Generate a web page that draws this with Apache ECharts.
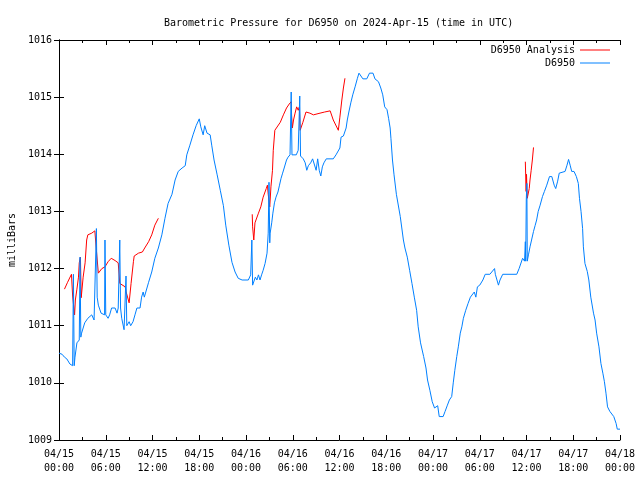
<!DOCTYPE html>
<html>
<head>
<meta charset="utf-8">
<script src="https://cdn.jsdelivr.net/npm/echarts@6/dist/echarts.min.js"></script>
<style>html,body{margin:0;padding:0;background:#fff;}#c{width:640px;height:480px;}</style>
</head>
<body>
<div id="c"></div>
<script>
// x tick labels (every 6 hours from 2024-04-15 00:00 UTC)
const tickLabels = ['04/15\n00:00','04/15\n06:00','04/15\n12:00','04/15\n18:00','04/16\n00:00','04/16\n06:00','04/16\n12:00','04/16\n18:00','04/17\n00:00','04/17\n06:00','04/17\n12:00','04/17\n18:00','04/18\n00:00'];

// D6950 observations: hours since 04/15 00:00, pressure in mb
const obsHours = [0.0,0.4,0.7,1.0,1.4,1.75,1.85,1.95,2.05,2.3,2.6,2.7,2.8,2.9,3.3,3.7,4.2,4.5,4.7,4.8,4.9,5.05,5.4,5.65,5.85,5.9,6.0,6.3,6.5,6.75,7.2,7.45,7.6,7.8,7.9,8.05,8.35,8.5,8.6,8.7,9.0,9.2,9.5,9.75,10.0,10.4,10.6,10.8,10.95,11.1,11.5,11.9,12.3,12.75,13.2,13.6,14.0,14.5,14.9,15.3,15.8,16.2,16.4,16.8,17.2,17.6,18.0,18.2,18.5,18.7,19.0,19.4,19.6,19.9,20.3,20.7,21.1,21.4,21.8,22.2,22.6,23.0,23.5,24.3,24.6,24.75,24.85,25.2,25.4,25.6,25.8,26.0,26.2,26.45,26.7,26.85,26.95,27.05,27.1,27.3,27.45,27.65,27.85,28.1,28.3,28.5,28.7,28.9,29.2,29.4,29.65,29.8,29.9,30.1,30.45,30.7,30.9,31.0,31.1,31.35,31.6,31.8,32.0,32.3,32.55,32.8,33.0,33.2,33.4,33.6,33.8,34.0,34.3,35.2,35.55,35.8,36.05,36.2,36.5,36.85,37.0,37.2,37.45,37.7,38.0,38.3,38.5,38.75,39.0,39.5,39.85,40.3,40.55,41.0,41.3,41.55,41.8,42.1,42.3,42.5,42.6,42.8,43.0,43.3,43.8,44.2,44.4,44.7,45.0,45.3,45.6,45.9,46.1,46.4,46.8,47.1,47.3,47.6,47.9,48.2,48.4,48.6,48.8,49.3,49.55,49.85,50.1,50.4,50.6,50.8,51.05,51.25,51.5,51.7,51.9,52.2,52.5,52.8,53.3,53.5,53.7,54.0,54.4,54.7,55.3,55.9,56.0,56.4,56.6,56.95,58.75,59.05,59.3,59.5,59.75,59.85,59.9,59.97,60.05,60.1,60.25,60.45,60.65,60.9,61.1,61.3,61.5,61.75,62.05,62.3,62.6,62.95,63.25,63.55,63.75,64.0,64.2,64.45,64.95,65.2,65.4,65.6,65.8,66.1,66.4,66.65,66.8,67.0,67.2,67.3,67.5,67.8,68.0,68.25,68.6,68.8,69.0,69.3,69.55,69.8,70.0,70.2,70.4,70.7,70.9,71.2,71.5,71.65,72.0];
const obsPressure = [1010.52,1010.50,1010.45,1010.42,1010.33,1010.30,1011.90,1010.30,1010.45,1010.70,1010.75,1012.20,1010.80,1010.87,1011.05,1011.13,1011.19,1011.10,1011.10,1012.70,1011.50,1011.36,1011.22,1011.19,1011.19,1012.50,1011.19,1011.13,1011.19,1011.31,1011.31,1011.22,1011.31,1012.50,1011.31,1011.13,1010.93,1010.90,1011.87,1011.00,1011.07,1011.00,1011.07,1011.19,1011.31,1011.31,1011.50,1011.59,1011.50,1011.50,1011.76,1011.94,1012.18,1012.36,1012.59,1012.88,1013.14,1013.30,1013.55,1013.70,1013.76,1013.80,1013.99,1014.16,1014.34,1014.50,1014.62,1014.48,1014.34,1014.50,1014.37,1014.34,1014.16,1013.90,1013.64,1013.37,1013.10,1012.76,1012.41,1012.11,1011.94,1011.83,1011.80,1011.80,1011.89,1012.50,1011.71,1011.85,1011.80,1011.89,1011.80,1011.89,1011.97,1012.09,1012.27,1012.62,1013.51,1012.45,1012.62,1012.80,1012.97,1013.15,1013.25,1013.34,1013.46,1013.58,1013.67,1013.76,1013.90,1013.95,1013.99,1015.09,1013.99,1013.99,1013.99,1014.07,1015.02,1013.97,1013.95,1013.92,1013.85,1013.72,1013.80,1013.85,1013.92,1013.92,1013.72,1013.92,1013.72,1013.62,1013.78,1013.85,1013.92,1013.92,1013.99,1014.00,1014.11,1014.30,1014.32,1014.46,1014.60,1014.74,1014.90,1015.04,1015.18,1015.33,1015.42,1015.42,1015.32,1015.32,1015.42,1015.42,1015.32,1015.27,1015.16,1015.04,1014.83,1014.78,1014.63,1014.46,1014.28,1013.90,1013.64,1013.30,1012.91,1012.50,1012.36,1012.20,1011.97,1011.74,1011.50,1011.27,1010.98,1010.70,1010.46,1010.26,1010.05,1009.87,1009.67,1009.56,1009.54,1009.60,1009.41,1009.41,1009.50,1009.61,1009.70,1009.76,1010.00,1010.22,1010.46,1010.63,1010.87,1010.98,1011.13,1011.27,1011.39,1011.50,1011.59,1011.50,1011.68,1011.71,1011.80,1011.90,1011.90,1012.00,1011.90,1011.71,1011.80,1011.90,1011.90,1012.00,1012.03,1012.18,1012.13,1012.47,1012.13,1013.20,1013.49,1012.13,1012.24,1012.38,1012.50,1012.65,1012.75,1012.85,1013.00,1013.11,1013.26,1013.35,1013.46,1013.61,1013.61,1013.46,1013.40,1013.53,1013.67,1013.70,1013.70,1013.81,1013.91,1013.81,1013.70,1013.70,1013.61,1013.49,1013.23,1013.00,1012.70,1012.38,1012.09,1011.95,1011.80,1011.50,1011.22,1011.10,1010.87,1010.63,1010.34,1010.17,1010.02,1009.82,1009.58,1009.50,1009.50,1009.41,1009.29,1009.19,1009.19];

// D6950 Analysis: hours, pressure (null = gap)
const anaHours = [0.7,1.1,1.6,1.7,1.75,2.0,2.1,2.3,2.5,2.6,2.75,2.85,3.1,3.35,3.55,3.7,4.2,4.6,4.8,5.05,5.5,5.9,6.3,6.7,7.2,7.6,7.8,8.05,8.5,8.6,9.0,9.25,9.55,9.65,10.2,10.7,11.0,11.5,11.9,12.3,12.75,18.0,24.8,24.85,25.0,25.15,25.6,25.9,26.2,26.6,26.75,26.85,27.05,27.2,27.4,27.5,27.7,27.9,28.4,28.8,29.2,29.55,29.8,29.85,29.95,30.1,30.3,30.5,30.7,30.85,30.95,31.05,31.3,31.7,32.2,32.65,33.5,34.1,34.8,35.2,35.85,36.05,36.3,36.5,36.7,48.0,59.85,59.95,60.0,60.1,60.35,60.45,60.6,60.75,60.9];
const anaPressure = [1011.64,1011.76,1011.90,1011.92,1011.52,1011.19,1011.45,1011.64,1011.85,1012.10,1012.20,1011.49,1011.85,1012.10,1012.50,1012.59,1012.62,1012.66,1012.32,1011.92,1012.00,1012.03,1012.12,1012.18,1012.14,1012.10,1011.74,1011.71,1011.68,1011.60,1011.40,1011.74,1012.12,1012.22,1012.27,1012.29,1012.36,1012.47,1012.59,1012.76,1012.88,null,1012.95,1012.73,1012.50,1012.80,1012.97,1013.08,1013.25,1013.40,1013.46,1013.30,1013.08,1013.43,1013.72,1014.07,1014.42,1014.45,1014.56,1014.69,1014.81,1014.88,1014.92,1014.69,1014.46,1014.60,1014.72,1014.83,1014.77,1014.83,1014.42,1014.39,1014.56,1014.74,1014.72,1014.69,1014.72,1014.74,1014.76,1014.60,1014.42,1014.65,1014.95,1015.16,1015.33,null,1013.87,1013.35,1013.65,1013.23,1013.40,1013.55,1013.72,1013.90,1014.12];

const FONT = '"DejaVu Sans Mono", "Liberation Mono", monospace';
const FS = 10;
const pair = (hs, vs) => hs.map((h, i) => [h, vs[i] === null ? '-' : vs[i]]);
const LINE_ICON = 'path://M0,0 L30,0 L30,1 L0,1 Z';

const chart = echarts.init(document.getElementById('c'), null, {renderer: 'canvas'});
const baseX = {
  type: 'value', min: 0, max: 72, interval: 6,
  axisLine: {show: true, lineStyle: {color: '#000', width: 1}},
  axisTick: {show: true, inside: true, length: 5, lineStyle: {color: '#000'}},
  minorTick: {show: true, splitNumber: 2, length: 3, lineStyle: {color: '#000'}},
  splitLine: {show: false}
};
const baseY = {
  type: 'value', min: 1009, max: 1016, interval: 1,
  axisLine: {show: true, lineStyle: {color: '#000', width: 1}},
  axisTick: {show: true, inside: true, length: 5, lineStyle: {color: '#000'}},
  splitLine: {show: false}
};
chart.setOption({
  animation: false,
  backgroundColor: '#fff',
  title: {
    text: 'Barometric Pressure for D6950 on 2024-Apr-15 (time in UTC)',
    left: 159, top: 13,
    textStyle: {fontFamily: FONT, fontSize: FS, fontWeight: 'normal', color: '#000'}
  },
  legend: {
    orient: 'vertical', right: 30, top: 45, padding: 0,
    align: 'right', itemWidth: 30, itemHeight: 10, itemGap: 3,
    symbolKeepAspect: true,
    textStyle: {fontFamily: FONT, fontSize: FS, color: '#000'},
    data: [
      {name: 'D6950 Analysis', icon: LINE_ICON, itemStyle: {color: '#ff0000'}},
      {name: 'D6950', icon: LINE_ICON, itemStyle: {color: '#0080ff'}}
    ]
  },
  grid: {left: 59, right: 20, top: 40, bottom: 40, containLabel: false, outerBoundsMode: 'none'},
  xAxis: [
    Object.assign({}, baseX, {
      position: 'bottom',
      axisLabel: {
        show: true, margin: 7, fontFamily: FONT, fontSize: FS, color: '#000', lineHeight: 14,
        formatter: v => tickLabels[Math.round(v / 6)]
      }
    }),
    Object.assign({}, baseX, {position: 'top', axisLabel: {show: false}})
  ],
  yAxis: [
    Object.assign({}, baseY, {
      position: 'left',
      name: 'milliBars', nameLocation: 'middle', nameGap: 42, nameRotate: 90,
      nameTextStyle: {fontFamily: FONT, fontSize: FS, color: '#000'},
      axisLabel: {show: true, margin: 7, fontFamily: FONT, fontSize: FS, color: '#000',
        formatter: v => String(v)}
    }),
    Object.assign({}, baseY, {position: 'right', axisLabel: {show: false}})
  ],
  series: [
    {
      name: 'D6950 Analysis', type: 'line', xAxisIndex: 0, yAxisIndex: 0,
      data: pair(anaHours, anaPressure), symbol: 'none', connectNulls: false,
      lineStyle: {color: '#ff0000', width: 1}, itemStyle: {color: '#ff0000'}
    },
    {
      name: 'D6950', type: 'line', xAxisIndex: 0, yAxisIndex: 0,
      data: pair(obsHours, obsPressure), symbol: 'none',
      lineStyle: {color: '#0080ff', width: 1}, itemStyle: {color: '#0080ff'}
    }
  ]
});
</script>
</body>
</html>
